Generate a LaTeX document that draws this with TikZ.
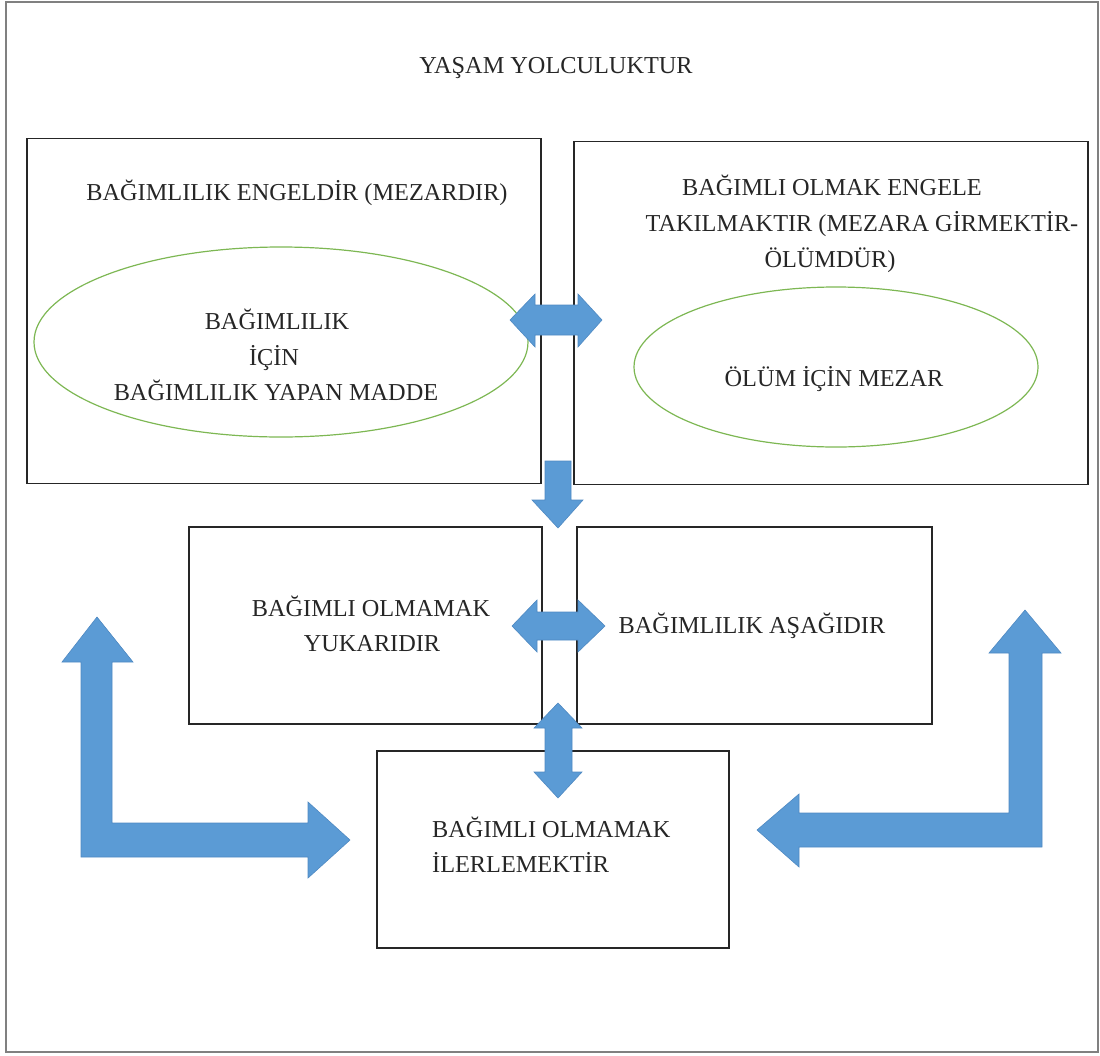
\documentclass[tikz,border=0pt]{standalone}
\usepackage{fontspec}
\setmainfont{Liberation Serif}
\definecolor{arrowblue}{HTML}{5B9BD5}
\definecolor{arrowedge}{HTML}{4F89C2}
\definecolor{ellgreen}{HTML}{7DB753}
\begin{document}
\begin{tikzpicture}[x=1pt,y=-1pt,
  every node/.style={font=\fontsize{24.3}{30}\selectfont, text=black!85, inner sep=0pt},
  boxshape/.style={draw=black!85, line width=1.4pt, rectangle, inner sep=0pt},
  ellshape/.style={draw=ellgreen, line width=1.2pt, ellipse, inner sep=0pt},
  blockarrow/.style={fill=arrowblue, draw=arrowedge, line width=0.6pt, line join=miter}]
\useasboundingbox (0,0) rectangle (1100,1055);
% outer frame
\draw[draw=black!50, line width=2pt] (6,2) rectangle (1098,1052);
\node (title) [anchor=base] at (556,73) {YAŞAM YOLCULUKTUR};
% boxes
\node (A) [boxshape, minimum width=514pt, minimum height=345pt] at (284,311) {};
\node (B) [boxshape, minimum width=514pt, minimum height=343pt] at (831,313) {};
\node (C) [boxshape, minimum width=353pt, minimum height=197pt] at (365.5,625.5) {};
\node (D) [boxshape, minimum width=355pt, minimum height=197pt] at (754.5,625.5) {};
\node (E) [boxshape, minimum width=352pt, minimum height=197pt] at (553,849.5) {};
% ellipses
\draw[draw=ellgreen, line width=1.2pt] (281,342) ellipse [x radius=247, y radius=95];
\draw[draw=ellgreen, line width=1.2pt] (836,367) ellipse [x radius=202, y radius=80];
% texts
\node (tA) [anchor=base] at (297,200) {BAĞIMLILIK ENGELDİR (MEZARDIR)};
\node (tB1) [anchor=base] at (832,195) {BAĞIMLI OLMAK ENGELE};
\node (tB2) [anchor=base] at (862,231) {TAKILMAKTIR (MEZARA GİRMEKTİR-};
\node (tB3) [anchor=base] at (830,267) {ÖLÜMDÜR)};
\node (eA1) [anchor=base] at (277,329) {BAĞIMLILIK};
\node (eA2) [anchor=base] at (274,365) {İÇİN};
\node (eA3) [anchor=base] at (276,400) {BAĞIMLILIK YAPAN MADDE};
\node (eB) [anchor=base] at (834,386) {ÖLÜM İÇİN MEZAR};
\node (tC1) [anchor=base] at (371,616) {BAĞIMLI OLMAMAK};
\node (tC2) [anchor=base] at (372,651) {YUKARIDIR};
\node (tD) [anchor=base] at (752,633) {BAĞIMLILIK AŞAĞIDIR};
\node (tE1) [anchor=base west] at (432,837) {BAĞIMLI OLMAMAK};
\node (tE2) [anchor=base west] at (432,872) {İLERLEMEKTİR};
% block arrows
\draw[blockarrow] (510,320) -- (535,294) -- (535,305) -- (578,305) -- (578,294) -- (602,320) -- (578,347) -- (578,335) -- (535,335) -- (535,347) -- cycle;
\draw[blockarrow] (545,461) -- (571,461) -- (571,500) -- (583,500) -- (558,528) -- (532,500) -- (545,500) -- cycle;
\draw[blockarrow] (512,626) -- (537,600) -- (537,612) -- (578,612) -- (578,600) -- (605,626) -- (578,652) -- (578,640) -- (537,640) -- (537,652) -- cycle;
\draw[blockarrow] (558,703) -- (582,728) -- (572,728) -- (572,772) -- (582,772) -- (558,798) -- (534,772) -- (545,772) -- (545,728) -- (534,728) -- cycle;
\draw[blockarrow] (97,617) -- (133,662) -- (112,662) -- (112,823) -- (308,823) -- (308,802) -- (350,840) -- (308,878) -- (308,857) -- (81,857) -- (81,662) -- (62,662) -- cycle;
\draw[blockarrow] (1025,610) -- (1061,653) -- (1042,653) -- (1042,847) -- (799,847) -- (799,867) -- (757,830) -- (799,794) -- (799,813) -- (1009,813) -- (1009,653) -- (989,653) -- cycle;
\end{tikzpicture}
\end{document}
